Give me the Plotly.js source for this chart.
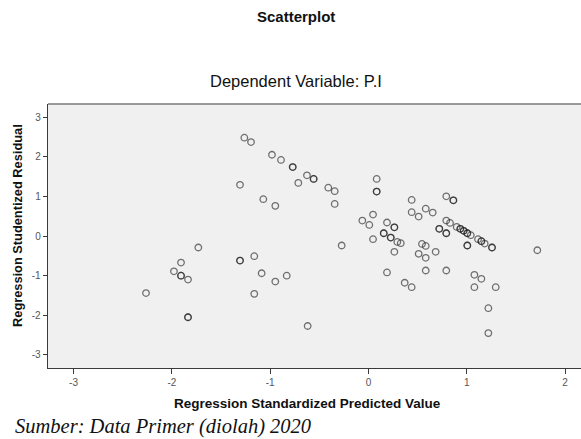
<!DOCTYPE html>
<html>
<head>
<meta charset="utf-8">
<script src="https://cdn.plot.ly/plotly-3.0.1.min.js"></script>
<style>
html, body { margin:0; padding:0; overflow:hidden; background:#fff; }
#chart { width:590px; height:439px; }
</style>
</head>
<body>
<div id="chart"></div>
<script>
// Regression Standardized Predicted Value (x) and Studentized Residual (y)
const predicted = [
  -1.263, -1.195, -0.982, -0.890, -0.771, -0.771, -0.714, -1.307, -1.070, -0.948,
  -1.731, -1.907, -1.979, -1.907, -1.907, -1.836, -2.263, -1.836, -1.836,
  -1.307, -1.307, -1.162, -1.087, -0.832, -0.948, -1.162,
  -0.626, -0.558, -0.558, -0.409, -0.344, -0.344, -0.273, -0.619,
  0.083, 0.083, 0.083, -0.063, 0.008, 0.046, 0.046, 0.188, 0.263, 0.263,
  0.155, 0.155, 0.226, 0.226, 0.293, 0.328, 0.263, 0.188,
  0.439, 0.439, 0.510, 0.582, 0.653, 0.544, 0.582, 0.510, 0.582, 0.683, 0.582,
  0.368, 0.439,
  0.791, 0.863, 0.863, 0.791, 0.829, 0.720, 0.720, 0.791, 0.791, 0.897,
  0.934, 0.934, 0.968, 0.968, 1.005, 1.005, 1.040, 1.005, 1.005, 1.114,
  1.148, 1.148, 1.182, 1.256, 1.256,
  0.791, 1.077, 1.148, 1.077, 1.294, 1.219, 1.219, 1.717
];
const residual = [
  2.48, 2.37, 2.05, 1.92, 1.74, 1.74, 1.34, 1.29, 0.93, 0.76,
  -0.29, -0.67, -0.89, -1.00, -1.00, -1.10, -1.44, -2.05, -2.05,
  -0.62, -0.62, -0.51, -0.94, -1.00, -1.15, -1.46,
  1.53, 1.44, 1.44, 1.22, 1.13, 0.81, -0.24, -2.27,
  1.44, 1.12, 1.12, 0.39, 0.28, 0.54, -0.08, 0.34, 0.22, 0.22,
  0.07, 0.07, -0.04, -0.04, -0.15, -0.18, -0.40, -0.92,
  0.91, 0.60, 0.49, 0.69, 0.59, -0.20, -0.25, -0.45, -0.55, -0.40, -0.87,
  -1.18, -1.29,
  1.00, 0.90, 0.90, 0.39, 0.33, 0.18, 0.18, 0.07, 0.07, 0.23,
  0.18, 0.18, 0.13, 0.13, 0.07, 0.07, 0.02, -0.24, -0.24, -0.08,
  -0.13, -0.13, -0.19, -0.29, -0.29,
  -0.87, -0.98, -1.08, -1.29, -1.29, -1.82, -2.45, -0.36
];
const xTicks = [-3, -2, -1, 0, 1, 2];
const yTicks = [-3, -2, -1, 0, 1, 2, 3];

const chartTitle = "Scatterplot";
const subTitle = "Dependent Variable: P.I";
const xTitle = "Regression Standardized Predicted Value";
const yTitle = "Regression Studentized Residual";
const sourceNote = "Sumber: Data Primer (diolah) 2020";

const trace = {
  x: predicted, y: residual, type: "scatter", mode: "markers",
  marker: { symbol: "circle-open", size: 6.5, color: "rgba(30,30,30,0.62)", line: { width: 1.3 } },
  hoverinfo: "skip"
};

const sans = "Liberation Sans, Arial, sans-serif";
const layout = {
  width: 590, height: 439,
  margin: { l: 48, r: 5, t: 104, b: 71 },
  paper_bgcolor: "#ffffff", plot_bgcolor: "#f0f0f0",
  showlegend: false,
  xaxis: {
    range: [-3.26, 2.202], tickvals: xTicks, ticktext: xTicks.map(String),
    showgrid: false, zeroline: false, showline: true, linecolor: "#3a3a3a", linewidth: 1.3,
    ticks: "outside", ticklen: 5, tickcolor: "#3a3a3a", tickwidth: 1,
    tickfont: { family: sans, size: 10, color: "#555" }
  },
  yaxis: {
    range: [-3.33, 3.33], tickvals: yTicks, ticktext: yTicks.map(String),
    showgrid: false, zeroline: false, showline: true, linecolor: "#3a3a3a", linewidth: 1.3,
    ticks: "outside", ticklen: 4, tickcolor: "#3a3a3a", tickwidth: 1,
    tickfont: { family: sans, size: 10, color: "#555" }
  },
  shapes: [
    { type: "line", xref: "paper", yref: "paper", x0: 0, x1: 1, y0: 1, y1: 1,
      line: { color: "#7a7a7a", width: 1.5 } }
  ],
  annotations: [
    { text: "<b>" + chartTitle + "</b>", xref: "paper", yref: "paper", x: 0.4618, y: 1.3333,
      xanchor: "center", yanchor: "middle", showarrow: false,
      font: { family: sans, size: 15, color: "#111" } },
    { text: subTitle, xref: "paper", yref: "paper", x: 0.4618, y: 1.087,
      xanchor: "center", yanchor: "middle", showarrow: false,
      font: { family: sans, size: 16.5, color: "#111" } },
    { text: "<b>" + xTitle + "</b>", xref: "paper", yref: "paper", x: 0.4832, y: -0.1326,
      xanchor: "center", yanchor: "middle", showarrow: false,
      font: { family: sans, size: 13.5, color: "#111" } },
    { text: "<b>" + yTitle + "</b>", xref: "paper", yref: "paper", x: -0.0559, y: 0.5417,
      xanchor: "center", yanchor: "middle", textangle: -90, showarrow: false,
      font: { family: sans, size: 12.8, color: "#111" } },
    { text: "<i>" + sourceNote + "</i>", xref: "paper", yref: "paper", x: -0.065, y: -0.2197,
      xanchor: "left", yanchor: "middle", showarrow: false,
      font: { family: "Liberation Serif, Times New Roman, serif", size: 20.5, color: "#111" } }
  ]
};

Plotly.newPlot("chart", [trace], layout, { displayModeBar: false, staticPlot: true });
</script>
</body>
</html>
